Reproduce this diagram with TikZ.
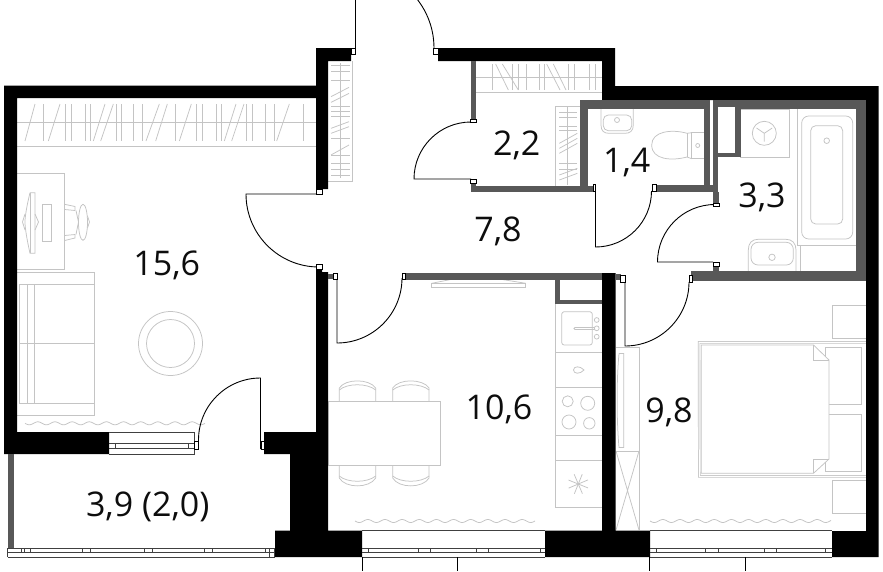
\documentclass[tikz,border=0pt]{standalone}
\usepackage{fontspec}
\setmainfont{Open Sans}
\definecolor{wallgray}{HTML}{585858}
\definecolor{furn}{HTML}{C4C4C4}
\tikzset{
  wall/.style={fill=black,draw=none},
  gwall/.style={fill=wallgray,draw=none},
  door/.style={draw=black,line width=0.9pt},
  postbox/.style={draw=black,fill=white,line width=0.7pt},
  winline/.style={draw=black!75,line width=0.8pt},
  fur/.style={draw=furn,line width=0.75pt},
  area/.style={font=\fontsize{34}{38}\selectfont,text=black!95,anchor=base,inner sep=0pt}
}
\newcommand{\doorpost}[4]{\draw[postbox] (#1,#2) rectangle (#3,#4);}
\begin{document}
\begin{tikzpicture}[x=1pt,y=-1pt]
\useasboundingbox (0,0) rectangle (883,571);
\clip (0,0) rectangle (883,571);
\fill[white] (0,0) rectangle (883,571);

% furniture: living room closet
\draw[fur] (17,122.6)--(316,122.6) (17,146.3)--(316,146.3);
\foreach \a/\b in {105/75,131/131,180/145,195/195,213/213,255/255,271/271,315/280,340/302,348/348,365/365,400/400,428/428,478/438,502/467,525/525,574/538,588/588,606/606,648/648,664/664,708/673,732/695,740/740,757/757,795/795,822/822,868/830,910/910}
  \draw[fur] ({\a/3},104)--({\b/3},141);
% entry closet
\draw[fur] (352,61)--(352,181)--(328,181);
\draw[fur] (340,63)--(340,178);
\foreach \y in {197,215,240,318,335,350,415,465,490,507,525}
  \draw[fur] (331,{\y/3})--(350,{\y/3});
\foreach \a/\b in {290/262,307/280,385/365,400/380,465/435}
  \draw[fur] (331,{\a/3})--(349,{\b/3});
% 2,2 closet
\draw[fur] (476,77.3)--(602,77.3) (476,92.3)--(602,92.3);
\foreach \a/\b in {157/157,167/205,187/235,218/218,235/235,258/258,297/297,313/313,320/360,340/378,385/385,404/404,447/447,465/465}
  \draw[fur] ({440+\a/3},64)--({440+\b/3},90);
\draw[fur] (555.7,186)--(555.7,106)--(580,106);
\draw[fur] (567.7,107)--(567.7,185);
\foreach \y in {218,233,258,272,370,388}
  \draw[fur] (559.3,{40+\y/3})--(577.3,{40+\y/3});
\foreach \a/\b in {310/280,325/295,340/310,405/385,420/400}
  \draw[fur] (559.3,{40+\a/3})--(577.3,{40+\b/3});

% WC
\draw[fur] (601,109)--(601,125) .. controls (601,131) and (604,133.3) .. (609,133.3)--(625,133.3) .. controls (630,133.3) and (633.3,131) .. (633.3,125)--(633.3,109);
\draw[fur,rounded corners=5pt] (603.3,115)--(631.7,115)--(631.7,130.7)--(603.3,130.7)--cycle;
\draw[fur] (617,120) circle[radius=2.5];
\draw[fur] (691.7,132.7) rectangle (704,158.7);
\draw[fur] (691.7,132.7)--(687,133.3) .. controls (672,129) and (651.7,131) .. (651.7,145) .. controls (651.7,160) and (672,161) .. (687,157)--(691.7,158.7);
\draw[fur] (687,133.3)--(687,157);
\draw[fur] (697.7,145.5) circle[radius=2];

% bathroom
\draw[fur] (740.5,109) rectangle (789,157);
\draw[fur] (764.3,133.3) circle[radius=12];
\draw[fur] (756.5,128)--(764.3,133.3)--(772.2,128) (764.3,133.3)--(764.3,141.5);
\draw[fur,rounded corners=7pt] (801.7,116) rectangle (852.7,239);
\draw[fur,rounded corners=5pt] (810.7,125.7) rectangle (842.7,224);
\draw[fur] (826.7,140.7) circle[radius=2.8];
\draw[fur] (797.3,109)--(797.3,245)--(856,245) (800.7,245)--(800.7,271);
\draw[fur] (748.3,271)--(748.3,250) .. controls (748.3,243) and (752,239.3) .. (758,239.3)--(786,239.3) .. controls (792,239.3) and (796,243) .. (796,250)--(796,271);
\draw[fur,rounded corners=7pt] (751,242.3) rectangle (793.3,265);
\draw[fur] (772,257.3) circle[radius=3.2];

% kitchen
\draw[fur] (555,304)--(555,507.7)--(602,507.7);
\foreach \y in {352,387.7,435.7,460}
  \draw[fur] (555,\y)--(602,\y);
\draw[fur,rounded corners=2.5pt] (561.7,311.7) rectangle (592.3,345);
\draw[fur,rounded corners=1pt] (574,327.5) rectangle (597,329.5);
\foreach \y in {320,328.3,336.7}
  \draw[fur,fill=white] (596.7,\y) circle[radius=2.4];
\draw[fur] (573.5,370) .. controls (573.5,366) and (580,365.5) .. (584,370) .. controls (580,374.5) and (573.5,374) .. (573.5,370);
\draw[fur] (567.7,401.3) circle[radius=5.5] (587.7,403.3) circle[radius=7] (569,422) circle[radius=7] (589.3,423.3) circle[radius=5.7];
\foreach \t in {0,45,...,315}
  \draw[fur] (578.3,484)--++({10.5*cos(\t+22)},{10.5*sin(\t+22)});
\draw[fur] (431.7,283.3) rectangle (525.7,287.3);
\draw[fur] (431.7,283.3)--(451.7,279.3) (501,279.3)--(525.7,283.3);
% dining
\draw[fur] (328,401) rectangle (440,465);
\foreach \x in {339.3,392.7}{
  \draw[fur] (\x,401)--(\x,388) .. controls ({\x+6},378.5) and ({\x+30},378.5) .. ({\x+36.4},388)--({\x+36.4},401);
  \draw[fur] (\x,390) .. controls ({\x+8},383) and ({\x+28},383) .. ({\x+36.4},390);
  \draw[fur] (\x,465)--(\x,478) .. controls ({\x+6},488.5) and ({\x+30},488.5) .. ({\x+36.4},478)--({\x+36.4},465);
  \draw[fur] (\x,476) .. controls ({\x+8},483) and ({\x+28},483) .. ({\x+36.4},476);
}

% living room furniture
\draw[fur] (17,173.3)--(64.7,173.3)--(64.7,269)--(17,269);
\draw[fur] (30,192.7)--(35,192.7)--(35,253.3)--(30,253.3) .. controls (27,240) and (25,228) .. (25,222) .. controls (25,216) and (27,205) .. (30,192.7);
\draw[fur] (30,192.7)--(30,253.3);
\draw[fur] (25,214)--(22.5,222)--(25,230) (35,214)--(38.5,222)--(35,230);
\draw[fur] (42.3,204) rectangle (51.7,241);
\draw[fur] (64.7,204.3)--(75,206.5)--(75,210.5)--(64.7,209.5);
\draw[fur] (64.7,240.5)--(75,238)--(75,234.5)--(64.7,235.5);
\draw[fur] (76,210.5)--(78.5,222)--(76,234.5);
\draw[fur] (83,222.3) ellipse[x radius=4.5,y radius=18];
\draw[fur] (87.5,216)--(89.5,222)--(87.5,228);
\draw[fur] (17,272.6)--(94,272.6)--(94,415)--(17,415);
\draw[fur] (19,284.3)--(94,284.3) (19,403)--(94,403) (19,343.3)--(94,343.3);
\draw[fur] (19,284.3)--(19,403) (27.5,284.3)--(27.5,403) (34,284.3)--(34,403);
\draw[fur] (170.5,343.5) circle[radius=32] circle[radius=24];

% bedroom furniture
\draw[fur] (639,347)--(616,347) (639,347)--(639,530) (616,451)--(639,451);
\draw[fur] (616,451)--(639,530) (639,451)--(616,530);
\draw[fur] (619,353.5)--(623.7,353.5)--(623.7,447.5)--(619,447.5) .. controls (616.5,420) and (616.5,380) .. (619,353.5);
\draw[fur,double,double distance=1pt,line width=0.7pt] (866,342.3)--(699,342.3)--(699.3,476.3)--(866,476.3);
\draw[fur,fill=white] (825.7,347.3) rectangle (861,404.3);
\draw[fur,fill=white] (825.7,414) rectangle (861,471);
\draw[fur,fill=white] (701.3,345)--(813.5,345)--(829,360)--(829,459)--(813.5,473.3)--(701.3,473.3)--cycle;
\draw[fur] (813.5,345)--(813.5,360)--(829,360) (813.5,473.3)--(813.5,459)--(829,459);
\draw[fur,fill=white] (866,305.7)--(832.3,305.7)--(832.3,338.3)--(866,338.3);
\draw[fur,fill=white] (866,480.3)--(832.3,480.3)--(832.3,513.7)--(866,513.7);

% curtains
\draw[fur] plot[domain=25:205,samples=150] (\x,{423.3+1.5*sin((\x-25)*21)});
\draw[fur] plot[domain=355:535,samples=150] (\x,{521+1.5*sin((\x-355)*21)});
\draw[fur] plot[domain=650:831,samples=150] (\x,{521+1.5*sin((\x-650)*21)});

% black walls
\path[wall] (4,85.5)--(316,85.5)--(316,48)--(351,48)--(351,61)--(328,61)--(328,189)--(322,189)--(322,192)--(316,192)--(316,98)--(17,98)--(17,432)--(109,432)--(109,454)--(4,454)--cycle;
\path[wall] (316,269)--(322,269)--(322,272)--(328,272)--(328,530.5)--(362,530.5)--(362,557)--(275,557)--(275,530.5)--(290,530.5)--(290,454)--(264,454)--(264,432)--(316,432)--cycle;
\path[wall] (438,48)--(615,48)--(615,86)--(878.5,86)--(878.5,557)--(832,557)--(832,531)--(866,531)--(866,100)--(602,100)--(602,61)--(438,61)--cycle;
\path[wall] (602,273)--(615.5,273)--(615.5,530.5)--(650,530.5)--(650,557)--(545,557)--(545,530.5)--(602,530.5)--cycle;

% gray walls
\path[gwall] (470.5,61) rectangle (476,120);
\path[gwall] (470.5,179) rectangle (476,192);
\path[gwall] (470.5,186) rectangle (593,192);
\path[gwall] (580,99.5) rectangle (588,186);
\path[gwall] (580,99.5) rectangle (709.5,109);
\path[gwall] (704,99.5) rectangle (709.5,192);
\path[gwall] (656,184.5) rectangle (712.5,192);
\path[gwall] (713,100) rectangle (866,109);
\path[gwall] (713,100) rectangle (718,192);
\path[gwall] (712.5,192) rectangle (718.5,203);
\path[gwall] (718,100) rectangle (740.5,157);
\fill[white] (718,107) rectangle (735,152.7);
\path[gwall] (856,100) rectangle (866,281);
\path[gwall] (690.5,271) rectangle (866,281);
\path[gwall] (712.5,263) rectangle (718.5,271);
\path[gwall] (405,273) rectangle (602,279.5);
\path[gwall] (555,279) rectangle (559.5,304);
\path[gwall] (555,300) rectangle (602,304);
\path[gwall] (328,273.5) rectangle (333,279);
\path[gwall] (615.5,273.5) rectangle (620.5,279.5);
\path[gwall] (8,454) rectangle (13.5,548.5);

% balcony wall of living room
\draw[winline] (109,432)--(194,432)--(194,454)--(109,454) (109,443.5)--(194,443.5) (109,448.5)--(194,448.5);
\draw[winline] (115.7,443.5)--(115.7,448.5) (188,443.5)--(188,448.5);

% lower windows
\foreach \xa/\xb/\marks in {
  7.5/275/{21,24,30,82,90,144,152,204,212,265.5,269},
  362/545/{368,418,430,476.7,488,540},
  650/832/{656,705.7,718,764,776,825.7}}{
  \draw[winline] (\xa,548.2)--(\xb,548.2) (\xa,552.6)--(\xb,552.6) (\xa,557)--(\xb,557);
  \foreach \m in \marks \draw[winline] (\m,548.2)--(\m,552.6);
}
\draw[winline] (7.5,548.2)--(7.5,557);
\draw[winline] (362,530.8)--(545,530.8) (650,530.8)--(832,530.8);
\draw[winline] (269,548.2) rectangle (274.5,557);
\draw[draw=black,line width=0.8pt] (362,557)--(362,571) (457.7,557)--(457.7,571) (649.7,557)--(649.7,571) (745,557)--(745,571);

% doors
\draw[door] (355,0)--(355,48);
\draw[door] (434,48) arc[start angle=0,end angle=-90,radius=79];
\doorpost{351}{48}{355.5}{54}
\doorpost{433.5}{48}{438}{54}
\draw[door] (322,194)--(246,194) arc[start angle=180,end angle=90,radius=73];
\doorpost{316}{189.5}{322}{194}
\doorpost{316}{264.5}{322}{269}
\draw[door] (471,179)--(414,179) arc[start angle=180,end angle=270,radius=57];
\doorpost{470.5}{119}{476}{122.5}
\doorpost{470.5}{179}{476}{183}
\draw[door] (595.5,191)--(595.5,247) arc[start angle=90,end angle=0,radius=56];
\doorpost{593}{184.5}{595.7}{191}
\doorpost{652}{184.5}{656}{191}
\draw[door] (713,262)--(657.5,262) arc[start angle=180,end angle=270,radius=57.5];
\doorpost{713}{203}{719}{206}
\doorpost{713}{262}{719}{266}
\draw[door] (625,282)--(625,346) arc[start angle=90,end angle=0,radius=64];
\doorpost{620.5}{275}{625}{282}
\doorpost{689}{275}{692}{282}
\draw[door] (337,279)--(337,343) arc[start angle=90,end angle=0,radius=65];
\doorpost{333}{273}{337}{279}
\doorpost{402}{273}{405.5}{279}
\draw[door] (260.5,449)--(260.5,378) arc[start angle=270,end angle=180,radius=62];
\draw[door] (198.5,440)--(198.5,449);
\doorpost{194}{441}{198}{449}
\doorpost{261}{441}{264}{449}

% areas
\node[area] (a1) at (166.7,275) {15,6};
\node[area] (a2) at (516.7,155) {2,2};
\node[area] (a3) at (626.7,172.7) {1,4};
\node[area] (a4) at (498,241) {7,8};
\node[area] (a5) at (762,207.3) {3,3};
\node[area] (a6) at (499,419.3) {10,6};
\node[area] (a7) at (669,422.7) {9,8};
\node[area] (a8) at (147.7,516) {3,9 (2,0)};
\end{tikzpicture}
\end{document}
